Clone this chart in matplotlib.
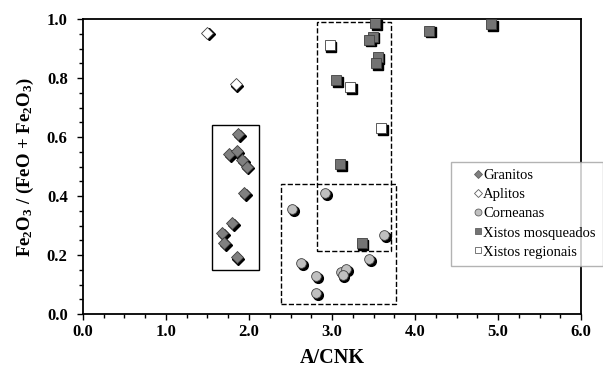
import matplotlib
matplotlib.use('Agg')
import matplotlib.pyplot as plt
from matplotlib.patches import Rectangle
from matplotlib.transforms import ScaledTranslation
from matplotlib.ticker import MultipleLocator, FormatStrFormatter

matplotlib.rcParams['font.family'] = ['Liberation Serif', 'DejaVu Serif']
matplotlib.rcParams['mathtext.fontset'] = 'custom'
matplotlib.rcParams['mathtext.rm'] = 'Liberation Serif:bold'
matplotlib.rcParams['mathtext.bf'] = 'Liberation Serif:bold'

# dados (A/CNK, Fe2O3/(FeO+Fe2O3))
granitos_x = [1.87, 1.76, 1.85, 1.92, 1.97, 1.94, 1.80, 1.68, 1.70, 1.85]
granitos_y = [0.61, 0.542, 0.553, 0.522, 0.50, 0.41, 0.308, 0.274, 0.24, 0.193]

aplitos_x = [1.50, 1.84]
aplitos_y = [0.953, 0.78]

corneanas_x = [2.52, 2.92, 2.63, 2.81, 2.81, 3.11, 3.17, 3.13, 3.45, 3.63]
corneanas_y = [0.356, 0.41, 0.173, 0.129, 0.071, 0.142, 0.152, 0.132, 0.186, 0.268]

mosq_x = [3.52, 3.49, 3.45, 3.55, 3.53, 3.05, 3.10, 4.17, 4.92, 3.36]
mosq_y = [0.986, 0.94, 0.93, 0.87, 0.85, 0.793, 0.508, 0.96, 0.983, 0.24]

regionais_x = [2.97, 3.22, 3.59]
regionais_y = [0.912, 0.769, 0.63]

# caixas: (x0, y0, x1, y1, estilo)
caixas = [
    (1.55, 0.15, 2.12, 0.64, '-'),
    (2.39, 0.034, 3.77, 0.44, '--'),
    (2.82, 0.214, 3.71, 0.99, '--'),
]

fig = plt.figure(figsize=(6.03, 3.73), dpi=100)
ax = fig.add_axes([0.1376, 0.158, 0.826, 0.791])

series = [
    (granitos_x, granitos_y, 'D', 6.0, '#808080', 'Granitos'),
    (aplitos_x, aplitos_y, 'D', 6.0, 'white', 'Aplitos'),
    (corneanas_x, corneanas_y, 'o', 7.0, '#c0c0c0', 'Corneanas'),
    (mosq_x, mosq_y, 's', 6.5, '#737373', 'Xistos mosqueados'),
    (regionais_x, regionais_y, 's', 6.5, 'white', 'Xistos regionais'),
]

# caixas primeiro, pontos por cima
for x0, y0, x1, y1, ls in caixas:
    ax.add_patch(Rectangle((x0, y0), x1 - x0, y1 - y0, fill=False,
                           edgecolor='black', linewidth=1.0, linestyle=ls, zorder=2))

desloc = ax.transData + ScaledTranslation(1.6 / 100, -1.6 / 100, fig.dpi_scale_trans)
for xs, ys, mk, ms, cor, nome in series:
    # sombra preta deslocada
    ax.plot(xs, ys, linestyle='none', marker=mk, markersize=ms,
            markerfacecolor='black', markeredgecolor='black',
            transform=desloc, zorder=3)
    ax.plot(xs, ys, linestyle='none', marker=mk, markersize=ms,
            markerfacecolor=cor, markeredgecolor='#404040', markeredgewidth=0.6,
            zorder=4)

# entradas da legenda sem sombra
handles = []
for xs, ys, mk, ms, cor, nome in series:
    h, = ax.plot([], [], linestyle='none', marker=mk, markersize=ms - 2.0,
                 markerfacecolor=cor, markeredgecolor='#606060', markeredgewidth=0.6,
                 label=nome)
    handles.append(h)

ax.set_xlim(0, 6)
ax.set_ylim(0, 1)
ax.xaxis.set_major_locator(MultipleLocator(1.0))
ax.xaxis.set_minor_locator(MultipleLocator(0.25))
ax.yaxis.set_major_locator(MultipleLocator(0.2))
ax.yaxis.set_minor_locator(MultipleLocator(0.05))
ax.xaxis.set_major_formatter(FormatStrFormatter('%.1f'))
ax.yaxis.set_major_formatter(FormatStrFormatter('%.1f'))
ax.tick_params(which='both', direction='out', top=False, right=False, width=1.0)
ax.tick_params(which='major', length=4, labelsize=12)
ax.tick_params(axis='y', which='major', pad=7)
ax.tick_params(axis='x', which='major', pad=3)
ax.tick_params(which='minor', length=3)
for lab in ax.get_xticklabels() + ax.get_yticklabels():
    lab.set_fontweight('bold')
for s in ax.spines.values():
    s.set_linewidth(1.3)

ax.set_xlabel('A/CNK', fontsize=14.5, fontweight='bold', labelpad=6)
ax.set_ylabel(r'$\mathbf{Fe_2O_3}$ / (FeO + $\mathbf{Fe_2O_3}$)', fontsize=13.5,
              fontweight='bold', labelpad=8)

leg = ax.legend(handles=handles, loc='upper left', bbox_to_anchor=(0.748, 0.566),
                bbox_transform=fig.transFigure, fontsize=10.5, frameon=True,
                fancybox=False, handlelength=2.7, handletextpad=-1.0,
                borderpad=0.5, labelspacing=0.4, borderaxespad=0)
leg.get_frame().set_edgecolor('#a0a0a0')
leg.get_frame().set_linewidth(1.0)
leg.set_zorder(10)

fig.savefig('out.png', dpi=100)
